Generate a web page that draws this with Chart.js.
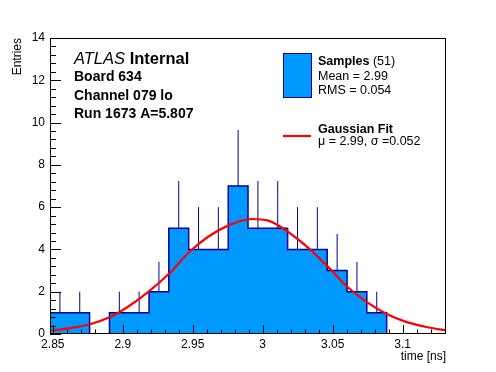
<!DOCTYPE html>
<html>
<head>
<meta charset="utf-8">
<script src="https://cdn.jsdelivr.net/npm/chart.js@4"></script>
<style>
  html, body { margin: 0; padding: 0; background: #fff; }
</style>
</head>
<body>
<canvas id="chart-time" width="496" height="372"></canvas>
<script>
// histogram bins (time in ns) and entries per bin
const binEdges = [2.848, 2.8622, 2.8763, 2.8905, 2.9046, 2.9188, 2.9329, 2.9471, 2.9612, 2.9754,
  2.9895, 3.0037, 3.0178, 3.032, 3.0461, 3.0603, 3.0744, 3.0886, 3.1027, 3.1169, 3.131];
const binCounts = [1, 1, 0, 1, 1, 2, 5, 4, 4, 7, 5, 5, 4, 4, 3, 2, 1, 0, 0, 0];

// gaussian fit curve
const fitX = [2.848, 2.861, 2.876, 2.891, 2.904, 2.918, 2.933, 2.947, 2.961, 2.976, 2.992,
  3.004, 3.013, 3.033, 3.047, 3.061, 3.075, 3.089, 3.103, 3.117, 3.131];
const fitY = [0.15, 0.27, 0.45, 0.8, 1.3, 1.98, 2.85, 3.84, 4.6, 5.15, 5.44,
  5.36, 5.06, 4.05, 3.15, 2.2, 1.48, 0.93, 0.56, 0.33, 0.17];

const xTickValues = [2.85, 2.9, 2.95, 3, 3.05, 3.1];
const xTickLabels = ["2.85", "2.9", "2.95", "3", "3.05", "3.1"];
const yTickValues = [0, 2, 4, 6, 8, 10, 12, 14];
const yTickLabels = ["0", "2", "4", "6", "8", "10", "12", "14"];

const infoLines = ["Board 634", "Channel 079 lo", "Run 1673 A=5.807"];
const sampleLabel = "Samples";
const sampleCount = " (51)";
const sampleStats = ["Mean = 2.99", "RMS = 0.054"];
const fitLabel = "Gaussian Fit";
const fitStats = "\u03bc = 2.99, \u03c3 =0.052";

const FONT = "'Liberation Sans', Arial, sans-serif";
const fillBlue = "#0099ff";
const navy = "#000099";

// histogram outline as stepped line
const histData = [{ x: binEdges[0], y: 0 }];
binCounts.forEach((c, i) => histData.push({ x: binEdges[i], y: c }));
histData.push({ x: binEdges[binEdges.length - 1], y: 0 });

// upper error bars (sqrt N)
const errData = [];
binCounts.forEach((c, i) => {
  if (c <= 0) return;
  const xc = (binEdges[i] + binEdges[i + 1]) / 2;
  errData.push({ x: xc, y: c });
  errData.push({ x: xc, y: c + Math.sqrt(c) });
  errData.push({ x: xc, y: null });
});

const fitData = fitX.map((x, i) => ({ x: x, y: fitY[i] }));

// frame, inward ticks (ROOT style), text boxes
const rootStyle = {
  id: "rootStyle",
  afterDraw(chart) {
    const ctx = chart.ctx;
    const a = chart.chartArea;
    const xs = chart.scales.x;
    const ys = chart.scales.y;
    ctx.save();
    ctx.strokeStyle = "#000";
    ctx.lineWidth = 1;

    // x ticks, minor every 0.01
    for (let k = 0; k <= 28; k++) {
      const px = Math.round(xs.getPixelForValue(2.85 + k * 0.01)) + 0.5;
      const len = k % 5 === 0 ? 9 : 4.5;
      ctx.beginPath();
      ctx.moveTo(px, a.bottom);
      ctx.lineTo(px, a.bottom - len);
      ctx.stroke();
    }
    // y ticks, minor every 0.4
    for (let k = 0; k <= 35; k++) {
      const py = Math.round(ys.getPixelForValue(k * 0.4)) + 0.5;
      const len = k % 5 === 0 ? 11 : 6;
      ctx.beginPath();
      ctx.moveTo(a.left, py);
      ctx.lineTo(a.left + len, py);
      ctx.stroke();
    }
    ctx.strokeRect(Math.round(a.left) + 0.5, Math.round(a.top) + 0.5,
      Math.round(a.right - a.left) - 1, Math.round(a.bottom - a.top) - 1);

    // ATLAS label
    ctx.fillStyle = "#000";
    ctx.textBaseline = "alphabetic";
    ctx.textAlign = "left";
    ctx.font = "italic 16.5px " + FONT;
    ctx.fillText("ATLAS", 74, 64);
    const w = ctx.measureText("ATLAS ").width;
    ctx.font = "bold 16.5px " + FONT;
    ctx.fillText("Internal", 74 + w, 64);
    ctx.font = "bold 14px " + FONT;
    infoLines.forEach((t, i) => ctx.fillText(t, 74, 81 + i * 18.5));

    // legend
    ctx.fillStyle = fillBlue;
    ctx.fillRect(283, 53, 28, 44);
    ctx.strokeStyle = navy;
    ctx.strokeRect(283.5, 53.5, 28, 44);
    ctx.strokeStyle = "#ff0000";
    ctx.lineWidth = 2.2;
    ctx.beginPath();
    ctx.moveTo(283, 136);
    ctx.lineTo(311, 136);
    ctx.stroke();

    ctx.fillStyle = "#000";
    ctx.font = "bold 12.5px " + FONT;
    ctx.fillText(sampleLabel, 318, 65);
    const sw = ctx.measureText(sampleLabel).width;
    ctx.font = "12.5px " + FONT;
    ctx.fillText(sampleCount, 318 + sw, 65);
    sampleStats.forEach((t, i) => ctx.fillText(t, 318, 80 + i * 13.5));
    ctx.font = "bold 12.5px " + FONT;
    ctx.fillText(fitLabel, 318, 133);
    ctx.font = "12.5px " + FONT;
    ctx.fillText(fitStats, 318, 145);
    ctx.restore();
  },
};

const ctxTime = document.getElementById("chart-time");

new Chart(ctxTime, {
  type: "line",
  data: {
    datasets: [
      {
        label: "Gaussian Fit",
        data: fitData,
        borderColor: "#ff0000",
        borderWidth: 2.2,
        pointRadius: 0,
        cubicInterpolationMode: "monotone",
        fill: false,
        order: 0,
      },
      {
        label: "errors",
        data: errData,
        borderColor: navy,
        borderWidth: 1,
        pointRadius: 0,
        spanGaps: false,
        fill: false,
        order: 1,
      },
      {
        label: "Samples",
        data: histData,
        stepped: true,
        borderColor: navy,
        backgroundColor: fillBlue,
        borderWidth: 1.5,
        pointRadius: 0,
        fill: "origin",
        order: 2,
      },
    ],
  },
  options: {
    responsive: false,
    animation: false,
    layout: { padding: { top: 38, right: 50, left: 0, bottom: 0 } },
    plugins: {
      legend: { display: false },
      tooltip: { enabled: false },
    },
    scales: {
      x: {
        type: "linear",
        min: binEdges[0],
        max: binEdges[binEdges.length - 1],
        afterBuildTicks: (scale) => {
          scale.ticks = xTickValues.map((v) => ({ value: v }));
        },
        afterFit: (scale) => {
          scale.height = 38;
        },
        ticks: {
          callback: (value, index) => xTickLabels[index],
          color: "#000",
          font: { family: FONT, size: 12 },
          padding: 3,
          maxRotation: 0,
          autoSkip: false,
        },
        grid: { display: false, drawTicks: false },
        border: { display: false },
        title: {
          display: true,
          text: "time [ns]",
          align: "end",
          color: "#000",
          font: { family: FONT, size: 12 },
          padding: { top: 0, bottom: 8 },
        },
      },
      y: {
        min: 0,
        max: 14,
        afterBuildTicks: (scale) => {
          scale.ticks = yTickValues.map((v) => ({ value: v }));
        },
        afterFit: (scale) => {
          scale.width = 50;
        },
        ticks: {
          callback: (value, index) => yTickLabels[index],
          color: "#000",
          font: { family: FONT, size: 12 },
          padding: 5,
        },
        grid: { display: false, drawTicks: false },
        border: { display: false },
        title: {
          display: true,
          text: "Entries",
          align: "end",
          color: "#000",
          font: { family: FONT, size: 12 },
          padding: { top: 10, bottom: 0 },
        },
      },
    },
  },
  plugins: [rootStyle],
});
</script>
</body>
</html>
